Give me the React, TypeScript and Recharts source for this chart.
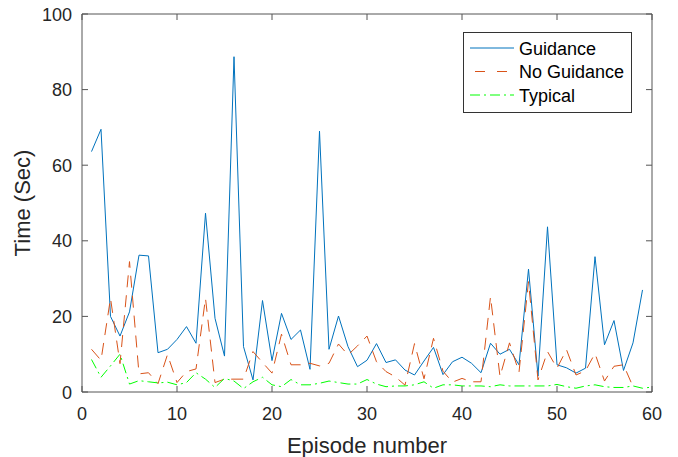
import { LineChart, Line, XAxis, YAxis, Legend, Label } from 'recharts';

const episodes = [
  1, 2, 3, 4, 5, 6, 7, 8, 9, 10, 11, 12, 13, 14, 15, 16, 17, 18, 19, 20,
  21, 22, 23, 24, 25, 26, 27, 28, 29, 30, 31, 32, 33, 34, 35, 36, 37, 38, 39, 40,
  41, 42, 43, 44, 45, 46, 47, 48, 49, 50, 51, 52, 53, 54, 55, 56, 57, 58, 59, 60,
];

const guidance = [
  63.6, 69.5, 20.0, 14.8, 21.2, 36.2, 36.0, 10.4, 11.3, 13.9,
  17.3, 12.9, 47.3, 19.5, 9.5, 88.7, 12.0, 3.2, 24.2, 8.3,
  20.8, 13.9, 16.4, 6.0, 69.0, 11.3, 20.1, 12.0, 6.7, 8.4,
  12.8, 7.8, 8.5, 5.8, 4.5, 8.2, 11.8, 4.6, 8.0, 9.2,
  7.6, 5.1, 12.9, 10.0, 11.3, 7.2, 32.5, 4.2, 43.7, 7.2,
  6.4, 5.0, 6.3, 35.8, 12.5, 18.9, 5.7, 13.0, 27.0,
];

const noGuidance = [
  11.3, 8.4, 24.8, 7.5, 34.5, 4.8, 5.1, 2.2, 9.9, 2.5,
  5.4, 6.1, 24.8, 2.5, 3.4, 3.4, 3.4, 10.7, 7.8, 5.0,
  15.3, 7.2, 7.2, 7.6, 6.9, 7.6, 12.7, 9.8, 12.2, 14.8,
  8.0, 5.4, 4.0, 1.8, 12.8, 3.5, 14.2, 5.5, 2.6, 3.6,
  2.7, 2.7, 25.2, 4.1, 13.0, 5.2, 29.2, 3.2, 10.7, 6.3,
  11.2, 4.5, 5.6, 10.2, 2.9, 6.8, 7.2, 1.4,
];

const typical = [
  8.6, 3.9, 6.9, 10.0, 2.1, 3.0, 2.7, 2.4, 2.6, 1.9,
  2.5, 5.1, 3.4, 1.2, 3.6, 2.9, 0.9, 2.7, 3.9, 1.9,
  1.4, 3.3, 1.9, 1.9, 2.3, 2.9, 2.5, 2.1, 2.1, 3.3,
  2.1, 1.4, 1.6, 1.6, 1.9, 2.7, 1.0, 1.9, 1.9, 1.6,
  1.6, 1.6, 1.4, 1.9, 1.6, 1.6, 1.6, 1.6, 1.6, 2.0,
  1.4, 1.0, 1.6, 1.9, 1.4, 1.2, 1.2, 1.6, 1.0, 1.3,
];

const xTicks = [0, 10, 20, 30, 40, 50, 60];
const yTicks = [0, 20, 40, 60, 80, 100];

const FONT = '"Liberation Sans", Arial, Helvetica, sans-serif';
const AXIS = '#555555';
const TEXT = '#262626';
const BLUE = '#0072BD';
const ORANGE = '#D95319';
const GREEN = '#00FF00';

const data = episodes.map((ep, i) => ({
  ep,
  guidance: guidance[i],
  noGuidance: noGuidance[i],
  typical: typical[i],
}));

const axisLine = { stroke: AXIS, strokeWidth: 1 };

// MATLAB-style ticks: marks point inward, labels outside
const BottomTick = ({ x, y, payload }: any) => (
  <g>
    <line x1={x} y1={y} x2={x} y2={y - 6} stroke={AXIS} strokeWidth={1} />
    <text x={x} y={y + 28} textAnchor="middle" fontSize={18} fontFamily={FONT} fill={TEXT}>
      {payload.value}
    </text>
  </g>
);

const LeftTick = ({ x, y, payload }: any) => (
  <g>
    <line x1={x} y1={y} x2={x + 6} y2={y} stroke={AXIS} strokeWidth={1} />
    <text x={x - 10} y={y + 6.5} textAnchor="end" fontSize={18} fontFamily={FONT} fill={TEXT}>
      {payload.value}
    </text>
  </g>
);

const TopTick = ({ x, y }: any) => (
  <line x1={x} y1={y} x2={x} y2={y + 6} stroke={AXIS} strokeWidth={1} />
);
const RightTick = ({ x, y }: any) => (
  <line x1={x} y1={y} x2={x - 6} y2={y} stroke={AXIS} strokeWidth={1} />
);

const legendItems = [
  { label: 'Guidance', color: BLUE, dash: undefined, offset: 0 },
  { label: 'No Guidance', color: ORANGE, dash: '10 12', offset: -5 },
  { label: 'Typical', color: GREEN, dash: '10 4 2 4', offset: 0 },
];

const LegendBox = () => (
  <svg width={169} height={81} style={{ display: 'block' }}>
    <rect x={0.5} y={0.5} width={168} height={80} fill="#fff" stroke="#333" />
    {legendItems.map((it, i) => (
      <g key={it.label}>
        <line
          x1={7}
          x2={51}
          y1={16 + i * 23.5}
          y2={16 + i * 23.5}
          stroke={it.color}
          strokeDasharray={it.dash}
          strokeDashoffset={it.offset}
        />
        <text x={56} y={22.5 + i * 23.5} fontSize={18} fontFamily={FONT} fill="#000">
          {it.label}
        </text>
      </g>
    ))}
  </svg>
);

const XTitle = () => (
  <text x={367} y={453} textAnchor="middle" fontSize={22} fontFamily={FONT} fill={TEXT}>
    Episode number
  </text>
);

const YTitle = () => (
  <text
    x={22}
    y={203}
    transform="rotate(-90 22 203)"
    textAnchor="middle"
    dominantBaseline="central"
    fontSize={22}
    fontFamily={FONT}
    fill={TEXT}
  >
    Time (Sec)
  </text>
);

export default function App() {
  return (
    <div style={{ position: 'absolute', left: 0, top: 0, background: '#fff' }}>
      <LineChart width={678} height={457} data={data} margin={{ top: 0, right: 0, left: 0, bottom: 0 }}>
        <XAxis
          xAxisId="bottom"
          dataKey="ep"
          type="number"
          domain={[0, 60]}
          ticks={xTicks}
          height={65}
          tickSize={0}
          tickMargin={0}
          tickLine={false}
          axisLine={axisLine}
          tick={<BottomTick />}
          interval={0}
          allowDataOverflow
        >
          <Label content={<XTitle />} />
        </XAxis>
        <XAxis
          xAxisId="top"
          dataKey="ep"
          orientation="top"
          type="number"
          domain={[0, 60]}
          ticks={xTicks}
          height={14}
          tickSize={0}
          tickMargin={0}
          tickLine={false}
          axisLine={axisLine}
          tick={<TopTick />}
          interval={0}
          allowDataOverflow
        />
        <YAxis
          yAxisId="left"
          type="number"
          domain={[0, 100]}
          ticks={yTicks}
          width={82}
          tickSize={0}
          tickMargin={0}
          tickLine={false}
          axisLine={axisLine}
          tick={<LeftTick />}
          interval={0}
          allowDataOverflow
        >
          <Label content={<YTitle />} />
        </YAxis>
        <YAxis
          yAxisId="right"
          orientation="right"
          type="number"
          domain={[0, 100]}
          ticks={yTicks}
          width={26}
          tickSize={0}
          tickMargin={0}
          tickLine={false}
          axisLine={axisLine}
          tick={<RightTick />}
          interval={0}
          allowDataOverflow
        />
        <Legend
          layout="horizontal"
          verticalAlign="middle"
          align="center"
          content={<LegendBox />}
          wrapperStyle={{ position: 'absolute', left: 463, top: 32, width: 169, height: 81 }}
        />
        <Line
          xAxisId="bottom"
          yAxisId="left"
          type="linear"
          dataKey="guidance"
          stroke={BLUE}
          strokeWidth={1}
          dot={false}
          isAnimationActive={false}
        />
        <Line
          xAxisId="bottom"
          yAxisId="left"
          type="linear"
          dataKey="noGuidance"
          stroke={ORANGE}
          strokeWidth={1}
          strokeDasharray="12 8"
          dot={false}
          isAnimationActive={false}
        />
        <Line
          xAxisId="bottom"
          yAxisId="left"
          type="linear"
          dataKey="typical"
          stroke={GREEN}
          strokeWidth={1}
          strokeDasharray="10 4 2 4"
          dot={false}
          isAnimationActive={false}
        />
      </LineChart>
    </div>
  );
}
